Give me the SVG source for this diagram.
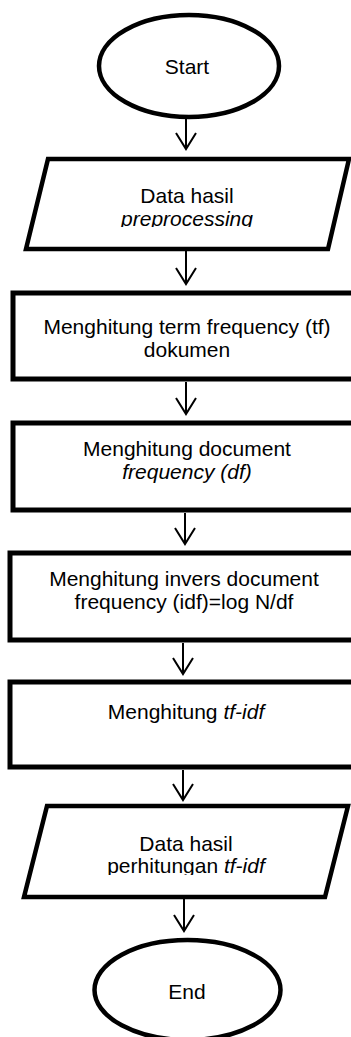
<svg xmlns="http://www.w3.org/2000/svg" width="351" height="1037" viewBox="0 0 351 1037">
<style>
.shape{fill:#fff;stroke:#000;stroke-width:4.5;stroke-linejoin:miter}
.box{fill:#fff;stroke:#000;stroke-width:5}
.lbl{font-family:"Liberation Sans",Arial,sans-serif;font-size:21px;fill:#000;text-anchor:middle}
.it{font-style:italic}
.conn{stroke:#000;stroke-width:2;fill:none}
</style>
<defs>
<marker id="v" viewBox="0 0 24 24" refX="20" refY="12" markerWidth="24" markerHeight="24" markerUnits="userSpaceOnUse" orient="auto">
<path d="M4 2 L20 12 L4 22" fill="none" stroke="#000" stroke-width="2"/>
</marker>
<clipPath id="c1"><rect x="0" y="170" width="351" height="57"/></clipPath>
<clipPath id="c2"><rect x="0" y="820" width="351" height="55"/></clipPath>
</defs>
<rect width="351" height="1037" fill="#fff"/>
<g id="connectors">
<line class="conn" x1="186" y1="119" x2="186" y2="149" marker-end="url(#v)"/>
<line class="conn" x1="186" y1="251" x2="186" y2="284" marker-end="url(#v)"/>
<line class="conn" x1="186" y1="382" x2="186" y2="414" marker-end="url(#v)"/>
<line class="conn" x1="185" y1="513" x2="185" y2="544" marker-end="url(#v)"/>
<line class="conn" x1="183" y1="643" x2="183" y2="674" marker-end="url(#v)"/>
<line class="conn" x1="183" y1="770" x2="183" y2="800" marker-end="url(#v)"/>
<line class="conn" x1="184" y1="899" x2="184" y2="931" marker-end="url(#v)"/>
</g>
<g id="start">
<ellipse class="shape" cx="189" cy="66" rx="90" ry="51"/>
<text class="lbl" x="187" y="74">Start</text>
</g>
<g id="input1">
<polygon class="shape" points="48,159 349,159 328,249 26,249"/>
<g clip-path="url(#c1)">
<text class="lbl" x="187" y="203">Data hasil</text>
<text class="lbl it" x="187" y="226">preprocessing</text>
</g>
</g>
<g id="tf">
<rect class="box" x="13" y="293" width="345" height="86"/>
<text class="lbl" x="187" y="334">Menghitung term frequency (tf)</text>
<text class="lbl" x="187" y="357">dokumen</text>
</g>
<g id="df">
<rect class="box" x="13" y="423" width="345" height="87"/>
<text class="lbl" x="187" y="456">Menghitung document</text>
<text class="lbl it" x="187" y="479">frequency (df)</text>
</g>
<g id="idf">
<rect class="box" x="10" y="553" width="348" height="87"/>
<text class="lbl" x="184" y="586">Menghitung invers document</text>
<text class="lbl" x="184" y="609">frequency (idf)=log N/df</text>
</g>
<g id="tfidf">
<rect class="box" x="10" y="682" width="348" height="85"/>
<text class="lbl" x="186" y="719">Menghitung <tspan class="it">tf-idf</tspan></text>
</g>
<g id="input2">
<polygon class="shape" points="47,806 348,806 325,897 24,897"/>
<g clip-path="url(#c2)">
<text class="lbl" x="186" y="851">Data hasil</text>
<text class="lbl" x="186" y="873">perhitungan <tspan class="it">tf-idf</tspan></text>
</g>
</g>
<g id="end">
<ellipse class="shape" cx="187.5" cy="990" rx="93" ry="50"/>
<text class="lbl" x="187" y="999">End</text>
</g>
</svg>
